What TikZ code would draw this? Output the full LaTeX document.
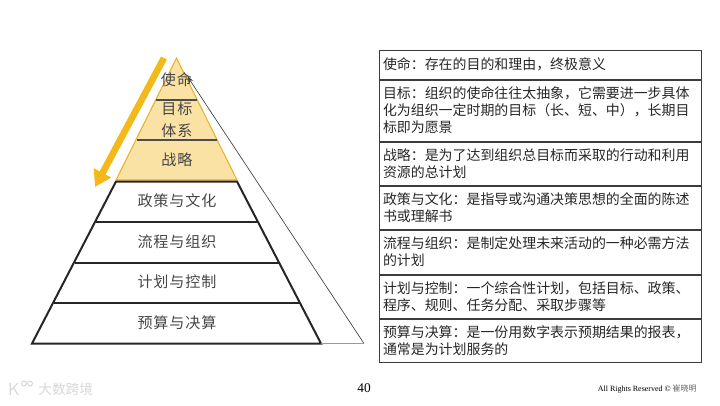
\documentclass[tikz,border=0pt]{standalone}
\usepackage{fontspec}
\setmainfont{Liberation Serif}
\newfontfamily\cjk{Noto Sans CJK SC}
\newfontfamily\cjkwide[LetterSpace=6]{Noto Sans CJK SC}
\usepackage{tikz}
\usetikzlibrary{positioning, arrows.meta}
\definecolor{pyrFill}{RGB}{250, 226, 165}
\definecolor{pyrEdge}{RGB}{232, 178, 40}
\definecolor{pyrText}{RGB}{70, 70, 70}
\definecolor{arrowGold}{RGB}{243, 184, 26}
\definecolor{rowEdge}{RGB}{60, 60, 60}
\definecolor{markGray}{RGB}{215, 215, 215}

\begin{document}
\begin{tikzpicture}[
    x=0.75pt, y=-0.75pt,
    node distance=0pt,
    level/.style={font=\cjkwide\fontsize{11.3}{13}\selectfont, text=pyrText, inner sep=0pt, align=center},
    rowbox/.style={rectangle, draw=rowEdge, line width=0.75pt, minimum width=241.5pt,
                   text width=235.5pt, inner xsep=3pt, inner ysep=0pt, align=left,
                   font=\cjk\fontsize{10.45}{12.75}\selectfont, text=black!85},
    layer/.style={line width=1.5pt, draw=black!85},
    goldline/.style={line width=5pt, draw=arrowGold, -{Triangle[length=12pt, width=14pt]}},
    thinline/.style={line width=0.5pt, draw=black!75}
  ]
    \useasboundingbox (0,0) rectangle (720,405);

    % Pyramid corners
    \coordinate (apex) at (176.5,58);
    \coordinate (baseL) at (32,343.5);
    \coordinate (baseR) at (321,343.5);
    \coordinate (sideTip) at (187.5,76.5);
    \coordinate (sideEnd) at (364,343.5);

    % Top part
    \fill[pyrFill] (apex) -- (116,181) -- (237,181) -- cycle;
    \draw[pyrEdge, line width=0.8pt] (apex) -- (116,180) -- (237,180) -- cycle;
    \draw[line width=0.9pt, draw=black!70] (156,100) -- (197,100);
    \draw[line width=0.9pt, draw=black!70] (137,140) -- (217,140);

    % Lower part
    \draw[layer] (116,181.5) -- (baseL) -- (baseR) -- (237,181.5) -- cycle;
    \draw[layer] (95.5,222) -- (258,222);
    \draw[layer] (75,262.5) -- (279,262.5);
    \draw[layer] (54,303) -- (300,303);

    % Side line
    \draw[thinline, -{Stealth[length=5pt]}] (sideEnd) -- (sideTip);
    \draw[line width=0.4pt, draw=black!40] (baseR) -- (sideEnd);

    % Gold arrow
    \coordinate (goldA) at (164,58);
    \coordinate (goldB) at (95,187);
    \draw[goldline] (goldA) -- (goldB);

    % Pyramid labels
    \node[level] (L1) at (176.5,80) {使命};
    \node[level] (L2) at (177,109) {目标};
    \node[level] (L2b) at (177,131) {体系};
    \node[level] (L3) at (177,160) {战略};
    \node[level] (L4) at (177,201) {政策与文化};
    \node[level] (L5) at (177,241.5) {流程与组织};
    \node[level] (L6) at (177,282) {计划与控制};
    \node[level] (L7) at (177,323) {预算与决算};

    % Right table
    \node[rowbox, anchor=north west, minimum height=21.75pt] (R1) at (378.5,49.5)
      {使命：存在的目的和理由，终极意义};
    \node[rowbox, below=of R1, minimum height=45.75pt] (R2)
      {目标：组织的使命往往太抽象，它需要进一步具体\\化为组织一定时期的目标（长、短、中），长期目\\标即为愿景};
    \node[rowbox, below=of R2, minimum height=32.25pt] (R3)
      {战略：是为了达到组织总目标而采取的行动和利用\\资源的总计划};
    \node[rowbox, below=of R3, minimum height=32.25pt] (R4)
      {政策与文化：是指导或沟通决策思想的全面的陈述\\书或理解书};
    \node[rowbox, below=of R4, minimum height=33pt] (R5)
      {流程与组织：是制定处理未来活动的一种必需方法\\的计划};
    \node[rowbox, below=of R5, minimum height=32.25pt] (R6)
      {计划与控制：一个综合性计划，包括目标、政策、\\程序、规则、任务分配、采取步骤等};
    \node[rowbox, below=of R6, minimum height=32.25pt] (R7)
      {预算与决算：是一份用数字表示预期结果的报表，\\通常是为计划服务的};

    % Footer
    \node[font=\fontsize{10}{12}\selectfont, inner sep=0pt] (pageNo) at (364,388.5) {40};
    \node[font=\fontsize{6}{7}\selectfont, inner sep=0pt, anchor=east] (rights) at (697,389)
      {All Rights Reserved © {\cjk\color{black!60}崔晓明}};

    % Watermark
    \node[font=\cjk\fontsize{10.3}{12}\selectfont, text=markGray, inner sep=0pt, anchor=west] (mark) at (38,389)
      {大数跨境};
    \node[font=\sffamily\fontsize{13}{14}\selectfont, text=markGray, inner sep=0pt] (markK) at (14,389) {K};
    \draw[markGray, line width=0.7pt] (24,383.5) circle[radius=2.5] (30,383.5) circle[radius=2.5];
  \end{tikzpicture}
\end{document}
